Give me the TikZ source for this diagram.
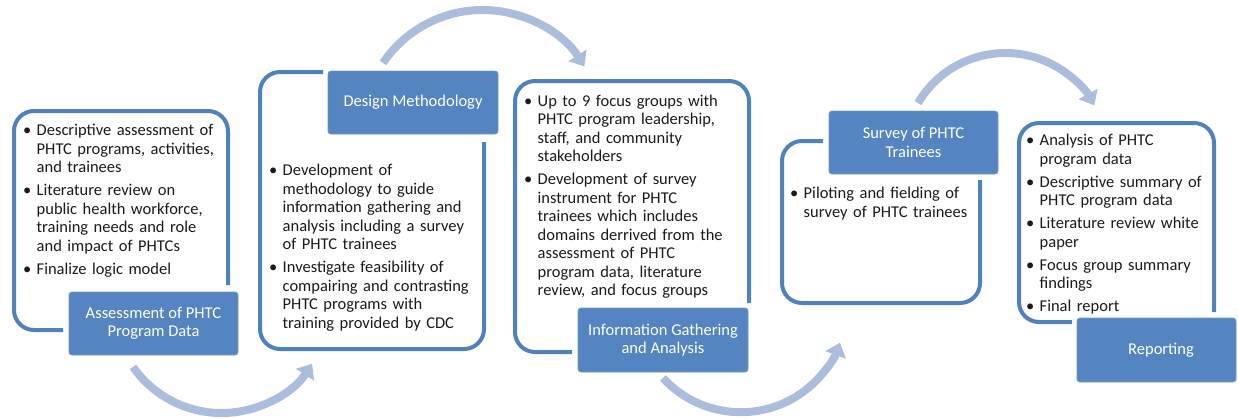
\documentclass[tikz,border=0pt]{standalone}
\usepackage{fontspec}
\setmainfont{Carlito}
\usetikzlibrary{arrows.meta}

\definecolor{frameblue}{RGB}{79,129,189}
\definecolor{labelblue}{RGB}{84,133,192}
\definecolor{labeledge}{RGB}{110,154,206}
\definecolor{arrowblue}{RGB}{170,189,220}
\definecolor{inkgray}{RGB}{28,24,30}

% one bullet paragraph; its further lines hang beside the dot
\newcommand{\bulletpara}[1]{\par\hangindent=13.5pt\hangafter=1\noindent
  \makebox[13.5pt][l]{\textbullet}{\let\\\newline #1}\par}
\newcommand{\listsetup}{\raggedright\setlength{\parskip}{4.5pt}}

\tikzset{
  stageframe/.style={draw=frameblue, line width=4pt, rounded corners=20pt},
  stagelabel/.style={fill=labelblue, draw=labeledge, line width=0.8pt,
    rounded corners=3pt, text=white, align=center, inner sep=0pt,
    font=\fontsize{16.5}{18.5}\selectfont},
  bulletlist/.style={anchor=north west, inner sep=0pt, text width=236pt,
    text=inkgray, font=\fontsize{16.5}{18.5}\selectfont},
  flowarrow/.style={draw=arrowblue, line width=8pt,
    -{Triangle[width=21pt,length=13pt]}}
}

\begin{document}
\begin{tikzpicture}[x=1pt,y=-1pt]
\useasboundingbox (0,0) rectangle (1238,418);

% ---------- stage 1 ----------
\draw[stageframe] (63,330) -- (14,330) -- (14,111) -- (228,111) -- (228,285);
\node[stagelabel, minimum width=169pt, minimum height=63pt] (lab1) at (153.5,323.5)
  {Assessment of PHTC\\Program Data};
\node[bulletlist] (txt1) at (23,112.5) {\listsetup
  \bulletpara{Descriptive assessment of\\PHTC programs, activities,\\and trainees}
  \bulletpara{Literature review on\\public health workforce,\\training needs and role\\and impact of PHTCs}
  \bulletpara{Finalize logic model}};

% ---------- stage 2 ----------
\draw[stageframe] (323,72) -- (260,72) -- (260,349) -- (484,349) -- (484,142);
\node[stagelabel, minimum width=170pt, minimum height=63pt] (lab2) at (413,102.5)
  {Design Methodology};
\node[bulletlist] (txt2) at (269,152.5) {\listsetup
  \bulletpara{Development of\\methodology to guide\\information gathering and\\analysis including a survey\\of PHTC trainees}
  \bulletpara{Investigate feasibility of\\compairing and contrasting\\PHTC programs with\\training provided by CDC}};

% ---------- stage 3 ----------
\draw[stageframe] (572,352) -- (515,352) -- (515,81) -- (749,81) -- (749,303);
\node[stagelabel, minimum width=170pt, minimum height=64pt] (lab3) at (663,340)
  {Information Gathering\\and Analysis};
\node[bulletlist] (txt3) at (524,83) {\listsetup
  \bulletpara{Up to 9 focus groups with\\PHTC program leadership,\\staff, and community\\stakeholders}
  \bulletpara{Development of survey\\instrument for PHTC\\trainees which includes\\domains derrived from the\\assessment of PHTC\\program data, literature\\review, and focus groups}};

% ---------- stage 4 ----------
\draw[stageframe] (823,141) -- (782,141) -- (782,303) -- (980,303) -- (980,180);
\node[stagelabel, minimum width=169pt, minimum height=63pt] (lab4) at (913.5,142.5)
  {Survey of PHTC\\Trainees};
\node[bulletlist] (txt4) at (790,175.5) {\listsetup
  \bulletpara{Piloting and fielding of\\survey of PHTC trainees}};

% ---------- stage 5 ----------
\draw[stageframe] (1072,322) -- (1019,322) -- (1019,123) -- (1214,123) -- (1214,312);
\node[stagelabel, minimum width=159pt, minimum height=64pt] (lab5) at (1156.5,350)
  {\hspace*{9pt}Reporting};
\node[bulletlist] (txt5) at (1026,122.5) {\listsetup
  \bulletpara{Analysis of PHTC\\program data}
  \bulletpara{Descriptive summary of\\PHTC program data}
  \bulletpara{Literature review white\\paper}
  \bulletpara{Focus group summary\\findings}
  \bulletpara{Final report}};

% ---------- curved flow arrows between stages ----------
\coordinate (flow1) at ([shift={(145:108)}]221.5,305);
\draw[flowarrow] (flow1) arc[start angle=145, end angle=33, radius=108];

\coordinate (flow2) at ([shift={(214:120)}]482.5,130);
\draw[flowarrow] (flow2) arc[start angle=214, end angle=328, radius=120];

\coordinate (flow3) at ([shift={(137.5:105.6)}]740.8,306.6);
\draw[flowarrow] (flow3) arc[start angle=137.5, end angle=20, radius=105.6];

\coordinate (flow4) at ([shift={(210.5:101.6)}]1005.5,154.6);
\draw[flowarrow] (flow4) arc[start angle=210.5, end angle=331, radius=101.6];
\end{tikzpicture}
\end{document}
